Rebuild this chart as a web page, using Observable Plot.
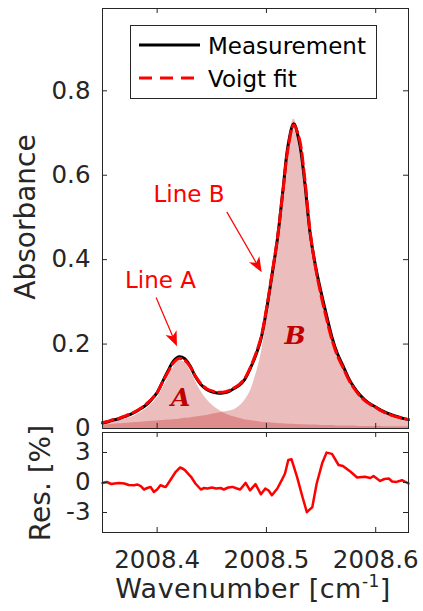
<!DOCTYPE html>
<html><head><meta charset="utf-8">
<script src="https://cdn.jsdelivr.net/npm/d3@7"></script>
<script src="https://cdn.jsdelivr.net/npm/@observablehq/plot@0.6"></script>
<style>
body{margin:0;background:#fff;}
#wrap{position:relative;width:423px;height:611px;overflow:hidden;font-family:"DejaVu Sans",sans-serif;background:#fff;}
#top,#bot{position:absolute;left:0;}
#top{top:0;} #bot{top:430px;}
#over{position:absolute;left:0;top:0;pointer-events:none;font-family:"DejaVu Sans",sans-serif;}
</style></head><body>
<div id="wrap">
<div id="top"></div><div id="bot"></div>
<svg id="over" width="423" height="611">
  <rect x="130.5" y="25.5" width="246" height="73" fill="white" stroke="#262626" stroke-width="1"/>
  <line x1="139" x2="200" y1="45" y2="45" stroke="#000" stroke-width="3"/>
  <text x="208" y="54" font-size="23" fill="#000">Measurement</text>
  <line x1="139" x2="200" y1="78" y2="78" stroke="#ff0000" stroke-width="3" stroke-dasharray="13,8"/>
  <text x="208" y="87" font-size="23" fill="#000">Voigt fit</text>
  <text transform="translate(35,217) rotate(-90)" text-anchor="middle" font-size="28" fill="#262626">Absorbance</text>
  <text transform="translate(50,483) rotate(-90)" text-anchor="middle" font-size="28" fill="#262626">Res. [%]</text>
  <text x="253" y="598" text-anchor="middle" font-size="27" fill="#262626" letter-spacing="0.5">Wavenumber [cm<tspan dy="-11" font-size="17">-1</tspan><tspan dy="11">]</tspan></text>
</svg>
</div>
<script>
// ---- data ----
const wavenumber = [2008.350,2008.355,2008.360,2008.365,2008.370,2008.375,2008.380,2008.385,2008.390,2008.395,
  2008.400,2008.405,2008.410,2008.415,2008.420,2008.425,2008.430,2008.435,2008.440,2008.445,
  2008.450,2008.455,2008.460,2008.465,2008.470,2008.475,2008.480,2008.485,2008.490,2008.495,
  2008.500,2008.505,2008.510,2008.515,2008.520,2008.525,2008.530,2008.535,2008.540,2008.545,
  2008.550,2008.555,2008.560,2008.565,2008.570,2008.575,2008.580,2008.585,2008.590,2008.595,
  2008.600,2008.605,2008.610,2008.615,2008.620,2008.625,2008.630];
const voigtFit = [0.014,0.017,0.021,0.024,0.029,0.034,0.040,0.048,0.058,0.070,
  0.085,0.110,0.134,0.156,0.166,0.162,0.147,0.124,0.106,0.095,
  0.089,0.086,0.086,0.089,0.096,0.104,0.118,0.143,0.175,0.215,
  0.283,0.365,0.450,0.560,0.668,0.719,0.688,0.594,0.466,0.380,
  0.315,0.260,0.210,0.172,0.145,0.117,0.096,0.079,0.066,0.057,
  0.050,0.042,0.036,0.031,0.027,0.024,0.021];
const measurement = [0.013,0.016,0.020,0.023,0.028,0.033,0.039,0.047,0.056,0.069,
  0.085,0.111,0.137,0.160,0.170,0.166,0.149,0.123,0.104,0.093,
  0.087,0.084,0.084,0.087,0.094,0.102,0.116,0.141,0.172,0.212,
  0.280,0.362,0.448,0.562,0.674,0.722,0.680,0.585,0.462,0.384,
  0.323,0.268,0.216,0.177,0.149,0.120,0.098,0.081,0.068,0.058,
  0.051,0.043,0.037,0.032,0.028,0.024,0.021];
const componentA = [0.014,0.015,0.017,0.019,0.022,0.026,0.031,0.038,0.047,0.058,
  0.072,0.094,0.120,0.145,0.160,0.157,0.138,0.113,0.088,0.070,
  0.056,0.046,0.038,0.032,0.028,0.024,0.021,0.019,0.017,0.015,
  0.014,0.013,0.012,0.011,0.010,0.010,0.009,0.009,0.008,0.008,
  0.007,0.007,0.007,0.006,0.006,0.006,0.006,0.005,0.005,0.005,
  0.005,0.005,0.004,0.004,0.004,0.004,0.004];
const componentB = [0.008,0.009,0.010,0.011,0.012,0.013,0.014,0.015,0.016,0.017,
  0.018,0.019,0.020,0.021,0.022,0.024,0.025,0.027,0.029,0.031,
  0.034,0.036,0.039,0.041,0.044,0.052,0.066,0.087,0.125,0.175,
  0.255,0.340,0.440,0.555,0.672,0.733,0.695,0.592,0.463,0.377,
  0.312,0.256,0.207,0.169,0.142,0.114,0.093,0.076,0.063,0.054,
  0.047,0.039,0.033,0.028,0.024,0.021,0.018];
const resWavenumber = [2008.350,2008.354,2008.358,2008.361,2008.365,2008.370,2008.374,2008.379,2008.382,2008.385,
  2008.388,2008.391,2008.394,2008.397,2008.400,2008.403,2008.406,2008.408,2008.412,2008.417,
  2008.421,2008.424,2008.426,2008.431,2008.435,2008.440,2008.443,2008.446,2008.450,2008.454,
  2008.458,2008.461,2008.465,2008.469,2008.473,2008.476,2008.481,2008.485,2008.490,2008.495,
  2008.499,2008.502,2008.505,2008.510,2008.514,2008.517,2008.520,2008.523,2008.528,2008.533,
  2008.537,2008.542,2008.546,2008.551,2008.555,2008.560,2008.566,2008.570,2008.577,2008.583,
  2008.590,2008.595,2008.598,2008.604,2008.608,2008.612,2008.615,2008.619,2008.624,2008.630];
const residual = [-0.05,0.05,-0.15,-0.10,-0.05,-0.10,-0.25,-0.27,-0.20,-0.37,
  -0.70,-0.55,-0.44,-0.95,-0.70,-0.27,-0.40,-0.44,0.23,1.07,
  1.50,1.35,1.17,0.57,-0.10,-0.70,-0.55,-0.60,-0.50,-0.60,
  -0.55,-0.70,-0.50,-0.44,-0.60,-0.70,-0.04,-0.78,-0.17,-1.18,
  -0.60,-0.80,-1.28,-0.60,0.23,0.90,2.25,2.32,0.57,-1.45,
  -2.97,-2.46,-0.10,1.92,2.99,2.86,1.75,1.65,1.07,0.50,
  0.57,0.45,0.64,0.16,0.35,0.40,0.10,0.06,0.23,-0.10];
const xTicks = [2008.4, 2008.5, 2008.6];
const yTicksAbs = [0, 0.2, 0.4, 0.6, 0.8];
const yTicksRes = [-3, 0, 3];
const peakLabels = [{text: "A", x: 2008.4216, y: 0.073}, {text: "B", x: 2008.5262, y: 0.220}];
const lineLabels = [{text: "Line A", x: 2008.4030, y: 0.350}, {text: "Line B", x: 2008.4292, y: 0.553}];
const arrows = [
  {x1: 2008.3995, y1: 0.309, x2: 2008.4186, y2: 0.1935},
  {x1: 2008.4642, y1: 0.512, x2: 2008.4961, y2: 0.369}
];

// ---- tables ----
const spec = wavenumber.map((x, i) => ({x, fit: voigtFit[i], meas: measurement[i], a: componentA[i], b: componentB[i]}));
const res = resWavenumber.map((x, i) => ({x, r: residual[i]}));

const W = 423, ML = 102, MR = 15;
const PW = W - ML - MR;
const frameColor = "#262626";
const font = {fontFamily: "DejaVu Sans", fontSize: "24.5px", color: "#262626", background: "transparent", overflow: "visible"};

function arrowMark(index, scales) {
  const s = scales && scales.x ? scales : index;
  const g = d3.create("svg:g");
  for (const a of arrows) {
    const x1 = s.x(a.x1), y1 = s.y(a.y1), x2 = s.x(a.x2), y2 = s.y(a.y2);
    const dx = x2 - x1, dy = y2 - y1, len = Math.hypot(dx, dy);
    const ux = dx / len, uy = dy / len, nx = -uy, ny = ux;
    const L = 15, w = 6, notch = 4;
    const bx = x2 - L * ux, by = y2 - L * uy;
    const mx = x2 - (L - notch) * ux, my = y2 - (L - notch) * uy;
    g.append("line").attr("x1", x1).attr("y1", y1).attr("x2", mx).attr("y2", my)
      .attr("stroke", "#ff0000").attr("stroke-width", 1.2);
    g.append("path").attr("d", `M${x2},${y2}L${bx + w * nx},${by + w * ny}L${mx},${my}L${bx - w * nx},${by - w * ny}Z`)
      .attr("fill", "#ff0000");
  }
  return g.node();
}

// ---- top panel ----
const topH = 430, topMT = 8, topMB = 2;
const topPH = topH - topMT - topMB;
const topChart = Plot.plot({
  width: W, height: topH,
  marginLeft: ML, marginRight: MR, marginTop: topMT, marginBottom: topMB,
  style: font,
  x: {domain: [2008.35, 2008.63], axis: null},
  y: {domain: [0, 0.995], ticks: yTicksAbs, tickSize: 0, tickPadding: 12,
      tickFormat: d => d === 0 ? "0" : d.toFixed(1), label: null},
  marks: [
    Plot.areaY(spec, {x: "x", y: "a", fill: "#b40000", fillOpacity: 0.26, curve: "catmull-rom"}),
    Plot.areaY(spec, {x: "x", y: "b", fill: "#b40000", fillOpacity: 0.26, curve: "catmull-rom"}),
    Plot.line(spec, {x: "x", y: "meas", stroke: "#000", strokeWidth: 3, curve: "catmull-rom"}),
    Plot.line(spec, {x: "x", y: "fit", stroke: "#ff0000", strokeWidth: 3, strokeDasharray: "11,5", curve: "catmull-rom"}),
    Plot.text(peakLabels, {x: "x", y: "y", text: "text", fontFamily: "DejaVu Serif", fontStyle: "italic",
      fontWeight: "bold", fontSize: 25, fill: "#c00000"}),
    Plot.text(lineLabels, {x: "x", y: "y", text: "text", fontFamily: "DejaVu Sans", fontSize: 23, fill: "#ff0000"}),
    arrowMark,
    Plot.ruleX(xTicks, {x: d => d, stroke: frameColor, insetBottom: topPH - 5}),
    Plot.ruleX(xTicks, {x: d => d, stroke: frameColor, insetTop: topPH - 5}),
    Plot.ruleY(yTicksAbs, {y: d => d, stroke: frameColor, insetRight: PW - 5}),
    Plot.ruleY(yTicksAbs, {y: d => d, stroke: frameColor, insetLeft: PW - 5}),
    Plot.frame({stroke: frameColor, strokeWidth: 1})
  ]
});
document.getElementById("top").appendChild(topChart);

// ---- residual panel ----
const botH = 181, botMT = 2, botMB = 79;
const botPH = botH - botMT - botMB;
const botChart = Plot.plot({
  width: W, height: botH,
  marginLeft: ML, marginRight: MR, marginTop: botMT, marginBottom: botMB,
  style: font,
  x: {domain: [2008.35, 2008.63], ticks: xTicks, tickSize: 0, tickPadding: 18,
      tickFormat: d => d.toFixed(1), label: null},
  y: {domain: [-5, 5], ticks: yTicksRes, tickSize: 0, tickPadding: 12,
      tickFormat: d => String(d), label: null},
  marks: [
    Plot.line(res, {x: "x", y: "r", stroke: "#ff0000", strokeWidth: 2.5}),
    Plot.ruleX(xTicks, {x: d => d, stroke: frameColor, insetBottom: botPH - 5}),
    Plot.ruleX(xTicks, {x: d => d, stroke: frameColor, insetTop: botPH - 5}),
    Plot.ruleY(yTicksRes, {y: d => d, stroke: frameColor, insetRight: PW - 5}),
    Plot.ruleY(yTicksRes, {y: d => d, stroke: frameColor, insetLeft: PW - 5}),
    Plot.frame({stroke: frameColor, strokeWidth: 1})
  ]
});
document.getElementById("bot").appendChild(botChart);
</script>
</body></html>
